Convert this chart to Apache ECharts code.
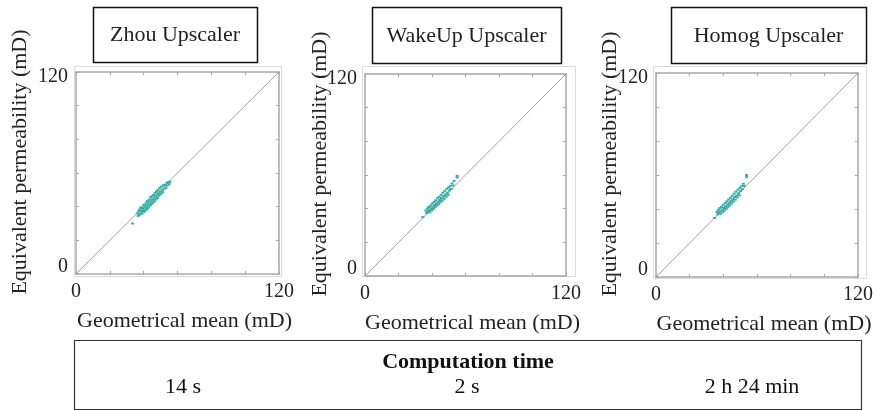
<!DOCTYPE html>
<html>
<head>
<meta charset="utf-8">
<script src="https://cdn.jsdelivr.net/npm/echarts@6/dist/echarts.min.js"></script>
<style>
html,body{margin:0;padding:0;background:#fff;}
#chart{width:878px;height:410px;}
</style>
</head>
<body>
<div id="chart"></div>
<script>
// ---- data ----
const panelTitles = ['Zhou Upscaler', 'WakeUp Upscaler', 'Homog Upscaler'];
const computationTimes = ['14 s', '2 s', '2 h 24 min'];
const tableTitle = 'Computation time';
const xAxisName = 'Geometrical mean (mD)';
const yAxisName = 'Equivalent permeability (mD)';
const axisMin = 0;
const axisMax = 120;
const tickStep = 20;
const tickLabelValues = [0, 120];
const diagonal = [[0, 0], [120, 120]];

const zhou = [[33.5,30],[36.2,36],[36.8,34.5],[37,37.5],[37.4,35.2],[37.8,38.5],[38,36],[38.3,39.6],[38.6,37.2],[39,35.8],
  [39.2,39.2],[39.5,37.5],[39.8,40.8],[40,38.4],[40.3,36.9],[40.6,41.2],[40.9,39.5],[41.2,37.8],[41.5,42.4],[41.8,40.2],
  [42,38.6],[42.3,43.3],[42.6,41.2],[42.9,39.5],[43.2,44.2],[43.5,42],[43.8,40.6],[44,45.5],[44.3,43.1],[44.6,41.5],
  [44.9,46.2],[45.2,44],[45.5,42.4],[45.8,47],[46.1,44.8],[46.4,43.2],[46.7,48.2],[47,45.9],[47.3,44.3],[47.6,49],
  [47.9,47],[48.2,45.2],[48.5,50],[48.8,47.8],[49.1,46.4],[49.5,51.2],[49.8,48.8],[50.2,47.5],[50.6,52],[51,49.8],
  [51.4,48.6],[51.8,53],[52.2,50.6],[52.7,52.6],[53.2,51.2],[53.6,54.2],[54.1,52.6],[54.6,54.5],[55.1,53.4],[55.6,54.8]];

const wakeup = [[34.5,35],[36.3,38.8],[36.8,37.4],[37.2,40],[37.6,38.2],[38,41],[38.3,39.2],[38.7,37.8],[39,41.8],[39.4,40.2],
  [39.8,38.9],[40.1,43],[40.5,41.2],[40.8,39.8],[41.2,44],[41.5,42.2],[41.9,40.8],[42.2,45],[42.6,43.1],[42.9,41.8],
  [43.3,46.2],[43.6,44.2],[44,42.7],[44.3,47],[44.7,45.2],[45,43.8],[45.4,48.2],[45.7,46.3],[46.1,44.7],[46.5,49.5],
  [46.8,47.4],[47.2,45.8],[47.6,50.6],[48,48.4],[48.4,47],[48.8,51.8],[49.2,49.5],[49.6,48.2],[50,52.6],[50.4,50.8],
  [50.9,53.5],[51.4,51.7],[52,55],[52.6,53.8],[53.2,56.5],[55,59.5],[55,58.5]];

const homog = [[34.8,34.7],[36.2,38.2],[36.6,36.8],[37,39.4],[37.4,37.8],[37.8,40.5],[38.2,38.6],[38.5,37.2],[38.9,41.2],[39.3,39.6],
  [39.7,38.3],[40,42.4],[40.4,40.6],[40.7,39.2],[41.1,43.5],[41.4,41.6],[41.8,40.2],[42.1,44.5],[42.5,42.6],[42.8,41.2],
  [43.2,45.6],[43.5,43.7],[43.9,42.2],[44.2,46.6],[44.6,44.7],[44.9,43.3],[45.3,47.8],[45.6,45.8],[46,44.4],[46.4,49],
  [46.7,47],[47.1,45.5],[47.5,50.2],[47.9,48],[48.3,46.8],[48.7,51.4],[49.1,49.2],[49.5,48],[49.9,52.4],[50.3,50.5],
  [50.8,53.4],[51.3,51.6],[51.9,54.8],[52.5,53.5],[53.8,60],[53.8,58.8]];

const seriesData = [zhou, wakeup, homog];

// ---- layout ----
const FONT = 'Liberation Serif';
const grids = [
  {left: 76, top: 72, width: 203, height: 202, yNameGap: 45, box: [93, 7, 164, 55], frame: [74, 66, 207, 210]},
  {left: 365, top: 74, width: 201, height: 202, yNameGap: 34, box: [372, 7, 189, 56], frame: [362, 66, 213, 210]},
  {left: 656, top: 73, width: 202, height: 204, yNameGap: 35, box: [671, 7, 195, 56], frame: [653, 66, 213, 212]}
];
const axisColor = '#a8a8a8';

const option = {
  animation: false,
  backgroundColor: '#fff',
  grid: grids.map(g => ({left: g.left, top: g.top, width: g.width, height: g.height, containLabel: false})),
  xAxis: [],
  yAxis: [],
  series: [],
  graphic: []
};

grids.forEach((g, i) => {
  const baseAxis = {
    gridIndex: i, type: 'value', min: axisMin, max: axisMax, interval: tickStep,
    splitLine: {show: false},
    nameMoveOverlap: false,
    axisLine: {show: true, onZero: false, lineStyle: {color: axisColor, width: 1.5}},
    axisTick: {show: true, inside: true, length: 3, lineStyle: {color: axisColor, width: 1}}
  };
  option.xAxis.push(Object.assign({}, baseAxis, {
    position: 'bottom',
    name: xAxisName, nameLocation: 'middle', nameGap: 36,
    nameTextStyle: {fontFamily: FONT, fontSize: 22, color: '#222', padding: [0, 0, 0, 14]},
    axisLabel: {
      show: true, margin: 8, fontFamily: FONT, fontSize: 20, color: '#222',
      formatter: v => tickLabelValues.indexOf(v) >= 0 ? String(v) : ''
    }
  }));
  option.xAxis.push(Object.assign({}, baseAxis, {position: 'top', axisLabel: {show: false}}));
  option.yAxis.push(Object.assign({}, baseAxis, {
    position: 'left',
    name: yAxisName, nameLocation: 'middle', nameGap: g.yNameGap,
    nameTextStyle: {fontFamily: FONT, fontSize: 22, color: '#222', padding: [0, 0, 0, 22]},
    axisLabel: {
      show: true, margin: 8, fontFamily: FONT, fontSize: 20, color: '#222',
      formatter: v => v === axisMax ? '{t|' + v + '}' : (v === axisMin ? '{b|' + v + '}' : ''),
      rich: {
        t: {fontFamily: FONT, fontSize: 20, color: '#222', padding: [10, 0, 0, 0]},
        b: {fontFamily: FONT, fontSize: 20, color: '#222', padding: [0, 0, 14, 0]}
      }
    }
  }));
  option.yAxis.push(Object.assign({}, baseAxis, {position: 'right', axisLabel: {show: false}}));

  option.series.push({
    type: 'line', xAxisIndex: 2 * i, yAxisIndex: 2 * i, data: diagonal,
    symbol: 'none', silent: true, lineStyle: {color: '#a0a0a0', width: 1}, z: 1
  });
  option.series.push({
    type: 'scatter', xAxisIndex: 2 * i, yAxisIndex: 2 * i, data: seriesData[i],
    symbol: 'rect', symbolSize: [3, 2], itemStyle: {color: '#1fa59c', opacity: 0.85}, z: 3
  });

  // light outer frame
  option.graphic.push({
    type: 'rect', silent: true, z: -1,
    shape: {x: g.frame[0] + 0.5, y: g.frame[1] + 0.5, width: g.frame[2], height: g.frame[3]},
    style: {fill: 'none', stroke: '#dcdcdc', lineWidth: 1}
  });
  // title box
  option.graphic.push({
    type: 'rect', silent: true,
    shape: {x: g.box[0] + 0.5, y: g.box[1] + 0.5, width: g.box[2], height: g.box[3]},
    style: {fill: '#fff', stroke: '#111', lineWidth: 1.5}
  });
  option.graphic.push({
    type: 'text', silent: true,
    style: {
      x: g.box[0] + g.box[2] / 2, y: g.box[1] + g.box[3] / 2 + 1,
      text: panelTitles[i], align: 'center', verticalAlign: 'middle',
      fontFamily: FONT, fontSize: 22, fill: '#222'
    }
  });
});

// bottom computation-time box
option.graphic.push({
  type: 'rect', silent: true,
  shape: {x: 74.5, y: 340.5, width: 787, height: 69},
  style: {fill: '#fff', stroke: '#333', lineWidth: 1.2}
});
option.graphic.push({
  type: 'text', silent: true,
  style: {x: 468, y: 362, text: tableTitle, align: 'center', verticalAlign: 'middle',
    fontFamily: FONT, fontSize: 22, fontWeight: 'bold', fill: '#111'}
});
const timeX = [183, 467, 752];
computationTimes.forEach((t, i) => {
  option.graphic.push({
    type: 'text', silent: true,
    style: {x: timeX[i], y: 387, text: t, align: 'center', verticalAlign: 'middle',
      fontFamily: FONT, fontSize: 22, fill: '#111'}
  });
});

const chart = echarts.init(document.getElementById('chart'), null, {renderer: 'canvas'});
chart.setOption(option);
</script>
</body>
</html>
